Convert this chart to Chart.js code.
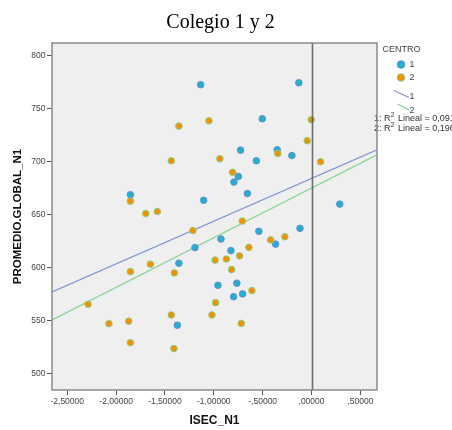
<!DOCTYPE html>
<html>
<head>
<meta charset="utf-8">
<title>Colegio 1 y 2</title>
<script src="https://cdn.jsdelivr.net/npm/chart.js@4/dist/chart.umd.min.js"></script>
<style>
  html, body { margin: 0; padding: 0; background: #ffffff; }
  #wrap { width: 452px; height: 430px; position: relative; }
</style>
</head>
<body>
<div id="wrap"><canvas id="chart" width="452" height="430"></canvas></div>
<script>
// ISEC_N1 (x) against PROMEDIO.GLOBAL_N1 (y), one series per CENTRO
const centro1X = [-1.135, -0.130, -0.504, -0.726, -0.351, -0.201, -0.565, -0.749, -0.794, -0.657,
                  -1.104, -1.854, 0.289, -0.539, -0.118, -0.927, -0.368, -1.193, -0.825, -1.357,
                  -0.958, -0.764, -0.798, -0.706, -1.373];
const centro1Y = [772.6, 774.4, 740.4, 710.8, 711.1, 705.7, 700.7, 685.9, 680.6, 669.8,
                  663.4, 668.7, 659.8, 634.1, 636.9, 626.8, 622.0, 618.7, 615.9, 604.0,
                  583.1, 585.1, 572.3, 575.0, 545.4];

const centro2X = [-1.050, -1.357, -0.003, -0.044, -1.435, -0.938, -0.345, 0.092, -0.808, -1.854,
                  -1.697, -1.578, -1.214, -0.709, -0.273, -0.419, -0.641, -0.987, -0.872, -0.736,
                  -0.818, -1.649, -1.854, -1.404, -0.610, -2.287, -0.982, -2.073, -1.871, -1.435,
                  -1.019, -0.719, -1.854, -1.408];
const centro2Y = [738.5, 733.5, 739.5, 719.6, 700.7, 702.6, 707.6, 699.8, 689.8, 662.6,
                  650.9, 652.8, 634.8, 643.8, 628.9, 626.0, 618.9, 606.9, 607.9, 610.9,
                  597.9, 603.0, 596.0, 594.8, 578.1, 565.2, 566.7, 546.9, 549.2, 555.1,
                  555.1, 547.1, 528.9, 523.3];

// Linear fit lines, given by their ends across the x range
const fitX  = [-2.656, 0.670];
const fit1Y = [576.9, 711.0];
const fit2Y = [550.4, 706.3];
const r2Labels = ['0,091', '0,196'];

// Axis ranges and ticks
const xRange = [-2.656, 0.670];
const yRange = [484.2, 812.0];
const xTickValues = [-2.5, -2.0, -1.5, -1.0, -0.5, 0.0, 0.5];
const xTickLabels = ['-2,50000', '-2,00000', '-1,50000', '-1,00000', '-,50000', ',00000', ',50000'];
const yTickValues = [500, 550, 600, 650, 700, 750, 800];
const refLineX = [0];

const SANS = "'Liberation Sans', Arial, sans-serif";
const SERIF = "'Liberation Serif', 'Times New Roman', serif";

const zip = (xs, ys) => xs.map((x, i) => ({ x: x, y: ys[i] }));

const COL1_FILL = '#22b0cf', COL1_EDGE = '#6a8dd0';
const COL2_FILL = '#f29200', COL2_EDGE = '#8ccf86';
const LINE1 = '#8095d6', LINE2 = '#86d390';

// Plot background, frame, x = 0 reference line, title, axis titles, legend
const decor = {
  id: 'decor',
  beforeDraw(chart) {
    const { ctx, chartArea: a } = chart;
    ctx.save();
    ctx.fillStyle = '#efefef';
    ctx.fillRect(a.left, a.top, a.right - a.left, a.bottom - a.top);
    ctx.restore();
  },
  afterDatasetsDraw(chart) {
    const { ctx, chartArea: a, scales } = chart;
    ctx.save();
    // reference line
    ctx.strokeStyle = 'rgba(95,95,95,0.9)';
    ctx.lineWidth = 1.6;
    refLineX.forEach(v => {
      const px = Math.round(scales.x.getPixelForValue(v)) + 0.5;
      ctx.beginPath();
      ctx.moveTo(px, a.top);
      ctx.lineTo(px, a.bottom);
      ctx.stroke();
    });
    ctx.restore();
  },
  afterDraw(chart) {
    const { ctx, chartArea: a } = chart;
    ctx.save();

    // legend text for the fit lines (sits under the frame edge)
    ctx.fillStyle = '#333';
    ctx.textBaseline = 'alphabetic';
    ctx.textAlign = 'left';
    const r2Row = (lead, val, y) => {
      let x = 374;
      ctx.font = '9px ' + SANS;
      ctx.fillText(lead + ': R', x, y);
      x += ctx.measureText(lead + ': R').width;
      ctx.font = '6.5px ' + SANS;
      ctx.fillText('2', x + 0.3, y - 3.8);
      x += ctx.measureText('2').width + 1.3;
      ctx.font = '9px ' + SANS;
      ctx.fillText(' Lineal = ' + val, x, y);
    };
    r2Row('1', r2Labels[0], 120.5);
    r2Row('2', r2Labels[1], 130.5);

    // frame around the plot
    ctx.strokeStyle = '#8a8a8a';
    ctx.lineWidth = 1.5;
    ctx.strokeRect(a.left, a.top, a.right - a.left, a.bottom - a.top);

    // title
    ctx.fillStyle = '#000';
    ctx.font = '20px ' + SERIF;
    ctx.textAlign = 'center';
    ctx.fillText('Colegio 1 y 2', 220.5, 28);

    // axis titles
    ctx.fillStyle = '#111';
    ctx.font = 'bold 12px ' + SANS;
    ctx.textBaseline = 'middle';
    ctx.fillText('ISEC_N1', (a.left + a.right) / 2, 421);
    ctx.save();
    ctx.translate(18, (a.top + a.bottom) / 2);
    ctx.rotate(-Math.PI / 2);
    ctx.font = 'bold 11.5px ' + SANS;
    ctx.fillText('PROMEDIO.GLOBAL_N1', 0, 0);
    ctx.restore();

    // legend
    ctx.textAlign = 'left';
    ctx.textBaseline = 'middle';
    ctx.fillStyle = '#444';
    ctx.font = '9px ' + SANS;
    ctx.fillText('CENTRO', 382.5, 50);

    const dot = (x, y, fill, edge) => {
      ctx.beginPath();
      ctx.arc(x, y, 3.8, 0, Math.PI * 2);
      ctx.fillStyle = fill;
      ctx.fill();
      ctx.lineWidth = 1;
      ctx.strokeStyle = edge;
      ctx.stroke();
    };
    dot(401, 64.5, COL1_FILL, COL1_EDGE);
    dot(401, 77.5, COL2_FILL, COL2_EDGE);

    const seg = (x1, y1, x2, y2, col) => {
      ctx.beginPath();
      ctx.moveTo(x1, y1);
      ctx.lineTo(x2, y2);
      ctx.strokeStyle = col;
      ctx.lineWidth = 1.2;
      ctx.stroke();
    };
    seg(394, 90.5, 409, 97.5, LINE1);
    seg(397.5, 104, 409, 110, LINE2);

    ctx.fillStyle = '#444';
    ctx.font = '9px ' + SANS;
    ctx.fillText('1', 409.5, 65);
    ctx.fillText('2', 409.5, 78);
    ctx.fillText('1', 409.5, 97);
    ctx.fillText('2', 409.5, 110.5);

    ctx.restore();
  }
};

new Chart(document.getElementById('chart'), {
  type: 'scatter',
  data: {
    datasets: [
      {
        label: '1',
        data: zip(centro1X, centro1Y),
        backgroundColor: COL1_FILL,
        borderColor: COL1_EDGE,
        borderWidth: 1,
        pointRadius: 3.3,
        order: 1
      },
      {
        label: '2',
        data: zip(centro2X, centro2Y),
        backgroundColor: COL2_FILL,
        borderColor: COL2_EDGE,
        borderWidth: 1,
        pointRadius: 3.3,
        order: 0
      },
      {
        label: 'Ajuste 1',
        data: zip(fitX, fit1Y),
        showLine: true,
        borderColor: LINE1,
        borderWidth: 1.2,
        pointRadius: 0,
        fill: false,
        order: 3
      },
      {
        label: 'Ajuste 2',
        data: zip(fitX, fit2Y),
        showLine: true,
        borderColor: LINE2,
        borderWidth: 1.2,
        pointRadius: 0,
        fill: false,
        order: 2
      }
    ]
  },
  options: {
    responsive: false,
    animation: false,
    devicePixelRatio: 1,
    layout: { padding: { top: 43, right: 75, bottom: 0, left: 0 } },
    plugins: {
      legend: { display: false },
      title: { display: false },
      tooltip: { enabled: false }
    },
    scales: {
      x: {
        type: 'linear',
        min: xRange[0],
        max: xRange[1],
        afterBuildTicks: s => { s.ticks = xTickValues.map(v => ({ value: v })); },
        afterFit: s => { s.height = 40; },
        ticks: {
          padding: 2,
          color: '#444',
          font: { family: SANS, size: 8.5 },
          maxRotation: 0,
          autoSkip: false,
          callback: (v) => {
            const i = xTickValues.findIndex(t => Math.abs(t - v) < 1e-9);
            return i >= 0 ? xTickLabels[i] : '';
          }
        },
        grid: { display: true, drawOnChartArea: false, drawTicks: true, tickLength: 5, color: '#555', lineWidth: 1 },
        border: { display: false }
      },
      y: {
        type: 'linear',
        min: yRange[0],
        max: yRange[1],
        afterBuildTicks: s => { s.ticks = yTickValues.map(v => ({ value: v })); },
        afterFit: s => { s.width = 52; },
        ticks: {
          padding: 1.5,
          color: '#444',
          font: { family: SANS, size: 8.5 },
          autoSkip: false
        },
        grid: { display: true, drawOnChartArea: false, drawTicks: true, tickLength: 5, color: '#555', lineWidth: 1 },
        border: { display: false }
      }
    }
  },
  plugins: [decor]
});
</script>
</body>
</html>
